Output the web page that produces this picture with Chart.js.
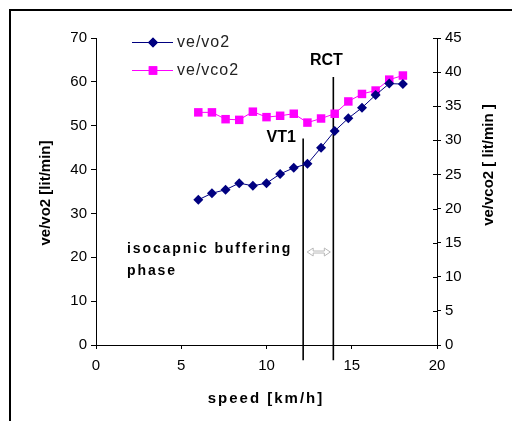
<!DOCTYPE html>
<html>
<head>
<meta charset="utf-8">
<script src="https://cdn.jsdelivr.net/npm/chart.js@4/dist/chart.umd.min.js"></script>
<style>
html,body{margin:0;padding:0;background:#fff;}
canvas{display:block;}
</style>
</head>
<body>
<canvas id="c" width="512" height="421"></canvas>
<script>
// ---- data ----
const speed   = [6, 6.8, 7.6, 8.4, 9.2, 10, 10.8, 11.6, 12.4, 13.2, 14, 14.8, 15.6, 16.4, 17.2, 18];
const veVo2   = [33.1, 34.6, 35.4, 36.9, 36.3, 36.9, 39.0, 40.4, 41.3, 45.0, 48.8, 51.7, 54.1, 57.0, 59.6, 59.5];
const veVco2  = [34.1, 34.1, 33.1, 33.0, 34.2, 33.4, 33.6, 33.9, 32.6, 33.2, 33.9, 35.7, 36.8, 37.3, 38.9, 39.5];
const seriesNames = ['ve/vo2', 've/vco2'];
const xTicks  = [0, 5, 10, 15, 20];
const yTicks  = [0, 10, 20, 30, 40, 50, 60, 70];
const y2Ticks = [0, 5, 10, 15, 20, 25, 30, 35, 40, 45];
const thresholds = [ {name: 'VT1', x: 12.15, yTop: 47.1}, {name: 'RCT', x: 13.92, yTop: 61.1} ];
const lineBottom = -3.5;
const noteText = ['isocapnic buffering', 'phase'];
const arrowY = 21.2;
const xTitle = 'speed [km/h]';
const yTitle = 've/vo2 [lit/min]';
const y2Title = 've/vco2 [ lit/min ]';

const FONT = '"Liberation Sans", Arial, sans-serif';
Chart.defaults.font.family = FONT;
Chart.defaults.color = '#000';

const NAVY = '#000080', PINK = '#ff00ff';

const datasets = [
  {
    label: seriesNames[0], yAxisID: 'y',
    data: speed.map((s, i) => ({x: s, y: veVo2[i]})),
    borderColor: NAVY, backgroundColor: NAVY, borderWidth: 1,
    pointStyle: 'rectRot', pointRadius: 5, pointBorderWidth: 0, tension: 0
  },
  {
    label: seriesNames[1], yAxisID: 'y2',
    data: speed.map((s, i) => ({x: s, y: veVco2[i]})),
    borderColor: PINK, backgroundColor: PINK, borderWidth: 1,
    pointStyle: 'rect', pointRadius: 6, pointBorderWidth: 0, tension: 0
  }
];
thresholds.forEach(t => {
  datasets.push({
    label: t.name, yAxisID: 'y',
    data: [{x: t.x, y: lineBottom}, {x: t.x, y: t.yTop}],
    borderColor: '#000', borderWidth: 1.6, pointRadius: 0, clip: false, isMarker: true
  });
});

function drawText(ctx, txt, x, y, font, align, spacing) {
  ctx.save();
  ctx.font = font;
  ctx.fillStyle = '#000';
  ctx.textAlign = align || 'left';
  ctx.textBaseline = 'alphabetic';
  if (spacing) ctx.letterSpacing = spacing + 'px';
  ctx.fillText(txt, x, y);
  ctx.restore();
}

const deco = {
  id: 'deco',
  afterDraw(chart) {
    const ctx = chart.ctx;
    const xs = chart.scales.x, ys = chart.scales.y, y2 = chart.scales.y2;
    ctx.save();
    // frame
    ctx.strokeStyle = '#000'; ctx.lineWidth = 2;
    ctx.beginPath(); ctx.moveTo(10, 421); ctx.lineTo(10, 10); ctx.lineTo(512, 10); ctx.stroke();
    // inner ticks of right axis
    ctx.lineWidth = 1;
    y2Ticks.forEach(v => {
      const py = Math.round(y2.getPixelForValue(v)) + 0.5;
      ctx.beginPath(); ctx.moveTo(y2.left - 4, py); ctx.lineTo(y2.left, py); ctx.stroke();
    });
    ctx.restore();

    // axis titles
    ctx.save();
    ctx.translate(45, 193); ctx.rotate(-Math.PI / 2);
    drawText(ctx, yTitle, 0, 5, 'bold 15px ' + FONT, 'center');
    ctx.restore();
    ctx.save();
    ctx.translate(488, 165); ctx.rotate(-Math.PI / 2);
    drawText(ctx, y2Title, 0, 5, 'bold 15px ' + FONT, 'center');
    ctx.restore();
    drawText(ctx, xTitle, 266, 403, 'bold 15px ' + FONT, 'center', 2);

    // threshold labels
    const vt = thresholds[0], rc = thresholds[1];
    drawText(ctx, vt.name, xs.getPixelForValue(vt.x) - 22, 142, 'bold 16px ' + FONT, 'center');
    drawText(ctx, rc.name, xs.getPixelForValue(rc.x) - 7, 65, 'bold 16px ' + FONT, 'center');

    // note text
    drawText(ctx, noteText[0], 127, 253, 'bold 14px ' + FONT, 'left', 1.9);
    drawText(ctx, noteText[1], 127, 275, 'bold 14px ' + FONT, 'left', 1.9);

    // double arrow (outline)
    const ax1 = xs.getPixelForValue(vt.x) + 4, ax2 = xs.getPixelForValue(rc.x) - 3;
    const ay = ys.getPixelForValue(arrowY);
    ctx.save();
    ctx.strokeStyle = '#b8b8b8'; ctx.lineWidth = 1;
    const hw = 6, hh = 4, sh = 1;
    ctx.beginPath();
    ctx.moveTo(ax1, ay);
    ctx.lineTo(ax1 + hw, ay - hh);
    ctx.lineTo(ax1 + hw, ay - sh);
    ctx.lineTo(ax2 - hw, ay - sh);
    ctx.lineTo(ax2 - hw, ay - hh);
    ctx.lineTo(ax2, ay);
    ctx.lineTo(ax2 - hw, ay + hh);
    ctx.lineTo(ax2 - hw, ay + sh);
    ctx.lineTo(ax1 + hw, ay + sh);
    ctx.lineTo(ax1 + hw, ay + hh);
    ctx.closePath();
    ctx.stroke();
    ctx.restore();

    // legend
    const rows = [
      {y: 42, color: NAVY, style: 'rectRot', r: 5, label: seriesNames[0]},
      {y: 70, color: PINK, style: 'rect', r: 6, label: seriesNames[1]}
    ];
    rows.forEach(rw => {
      ctx.save();
      ctx.strokeStyle = rw.color; ctx.lineWidth = 1;
      ctx.beginPath(); ctx.moveTo(132, rw.y + 0.5); ctx.lineTo(173, rw.y + 0.5); ctx.stroke();
      ctx.fillStyle = rw.color;
      Chart.helpers.drawPoint(ctx, {pointStyle: rw.style, radius: rw.r, borderWidth: 0}, 153, rw.y + 0.5);
      ctx.fill();
      ctx.restore();
      ctx.save();
      ctx.font = '16px ' + FONT;
      ctx.letterSpacing = '1px';
      ctx.fillStyle = '#222';
      ctx.textBaseline = 'middle';
      ctx.fillText(rw.label, 177, rw.y + 1);
      ctx.restore();
    });
  }
};

new Chart(document.getElementById('c'), {
  type: 'line',
  data: {datasets},
  options: {
    responsive: false, animation: false, devicePixelRatio: 1,
    layout: {padding: {top: 38, left: 0, right: 0, bottom: 0}},
    plugins: {legend: {display: false}, tooltip: {enabled: false}},
    scales: {
      x: {
        type: 'linear', min: 0, max: 20,
        afterFit: s => { s.height = 76; },
        afterBuildTicks: s => { s.ticks = xTicks.map(v => ({value: v})); },
        grid: {drawOnChartArea: false, drawTicks: true, tickLength: 4, tickColor: '#000'},
        border: {display: true, color: '#000', width: 1},
        ticks: {font: {size: 15}, padding: 8, color: '#000', maxRotation: 0}
      },
      y: {
        position: 'left', min: 0, max: 70,
        afterFit: s => { s.width = 96; },
        afterBuildTicks: s => { s.ticks = yTicks.map(v => ({value: v})); },
        grid: {drawOnChartArea: false, drawTicks: true, tickLength: 5, tickColor: '#000'},
        border: {display: true, color: '#000', width: 1},
        ticks: {font: {size: 15}, padding: 4, color: '#000'}
      },
      y2: {
        position: 'right', min: 0, max: 45,
        afterFit: s => { s.width = 75; },
        afterBuildTicks: s => { s.ticks = y2Ticks.map(v => ({value: v})); },
        grid: {drawOnChartArea: false, drawTicks: true, tickLength: 4, tickColor: '#000'},
        border: {display: true, color: '#000', width: 1},
        ticks: {font: {size: 15}, padding: 4, color: '#000'}
      }
    }
  },
  plugins: [deco]
});
</script>
</body>
</html>
